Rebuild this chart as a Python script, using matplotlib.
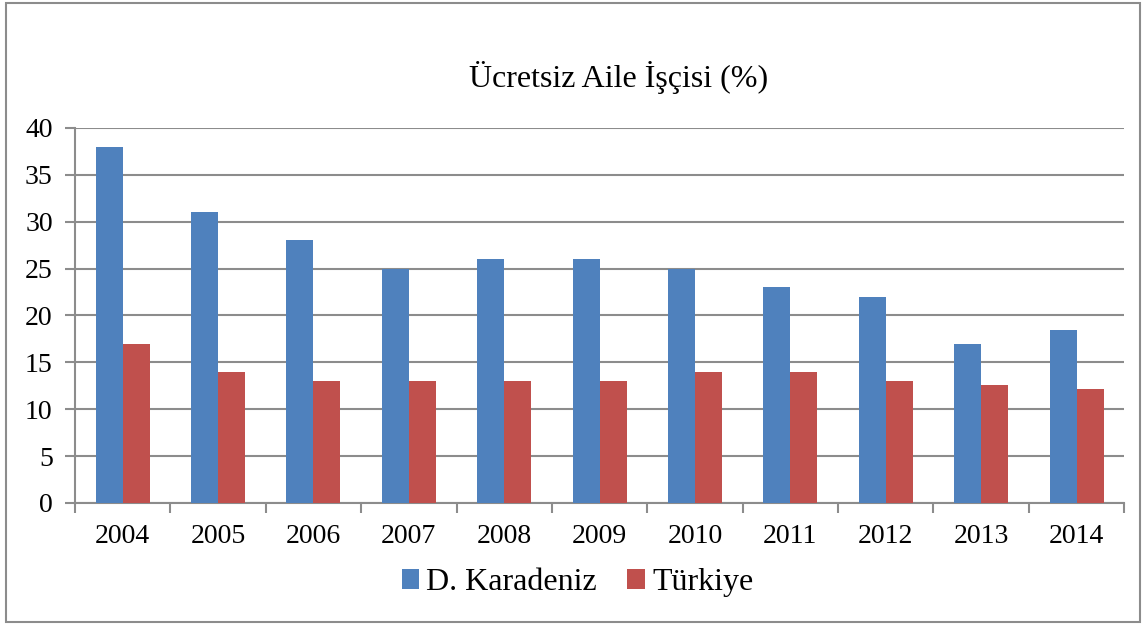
import matplotlib.pyplot as plt
import numpy as np
from matplotlib.patches import Rectangle

years = ['2004', '2005', '2006', '2007', '2008', '2009', '2010', '2011', '2012', '2013', '2014']
karadeniz = [38, 31, 28, 25, 26, 26, 25, 23, 22, 17, 18.4]
turkiye = [17, 14, 13, 13, 13, 13, 14, 14, 13, 12.6, 12.2]

plt.rcParams['font.family'] = ['Liberation Serif', 'DejaVu Serif']

fig = plt.figure(figsize=(11.46, 6.24), dpi=100)
ax = fig.add_axes([0.0654, 0.194, 0.9156, 0.601])

x = np.arange(len(years))
w = 0.283
ax.bar(x - w / 2, karadeniz, w, color='#4F81BD', label='D. Karadeniz', zorder=3)
ax.bar(x + w / 2, turkiye, w, color='#C0504D', label='Türkiye', zorder=3)

ax.set_xlim(-0.5, len(years) - 0.5)
ax.set_ylim(0, 40)
ax.set_yticks(range(0, 41, 5))
ax.yaxis.grid(True, color='#8c8c8c', linewidth=1.5, zorder=0)
ax.set_xticks(x)
ax.set_xticklabels(years)
ax.set_xticks(np.arange(-0.5, len(years)), minor=True)
ax.tick_params(axis='x', which='major', length=0, pad=15, labelsize=20)
ax.tick_params(axis='x', which='minor', length=7, width=1.5, color='#8c8c8c')
ax.tick_params(axis='y', length=7, width=1.5, color='#8c8c8c', labelsize=20, pad=9)

for s in ['top', 'right']:
    ax.spines[s].set_visible(False)
for s in ['left', 'bottom']:
    ax.spines[s].set_color('#8c8c8c')
    ax.spines[s].set_linewidth(1.5)

fig.text(0.540, 0.875, 'Ücretsiz Aile İşçisi (%)', ha='center', va='center', fontsize=23)

fig.legend(loc='center', bbox_to_anchor=(0.504, 0.066), ncol=2, frameon=False,
           fontsize=23, handlelength=0.55, handleheight=0.55, handletextpad=0.22,
           columnspacing=0.95)

fig.patches.append(Rectangle((0.005, 0.003), 0.99, 0.992, transform=fig.transFigure,
                             fill=False, edgecolor='#8c8c8c', linewidth=1.5))

fig.savefig('out.png', dpi=100)
